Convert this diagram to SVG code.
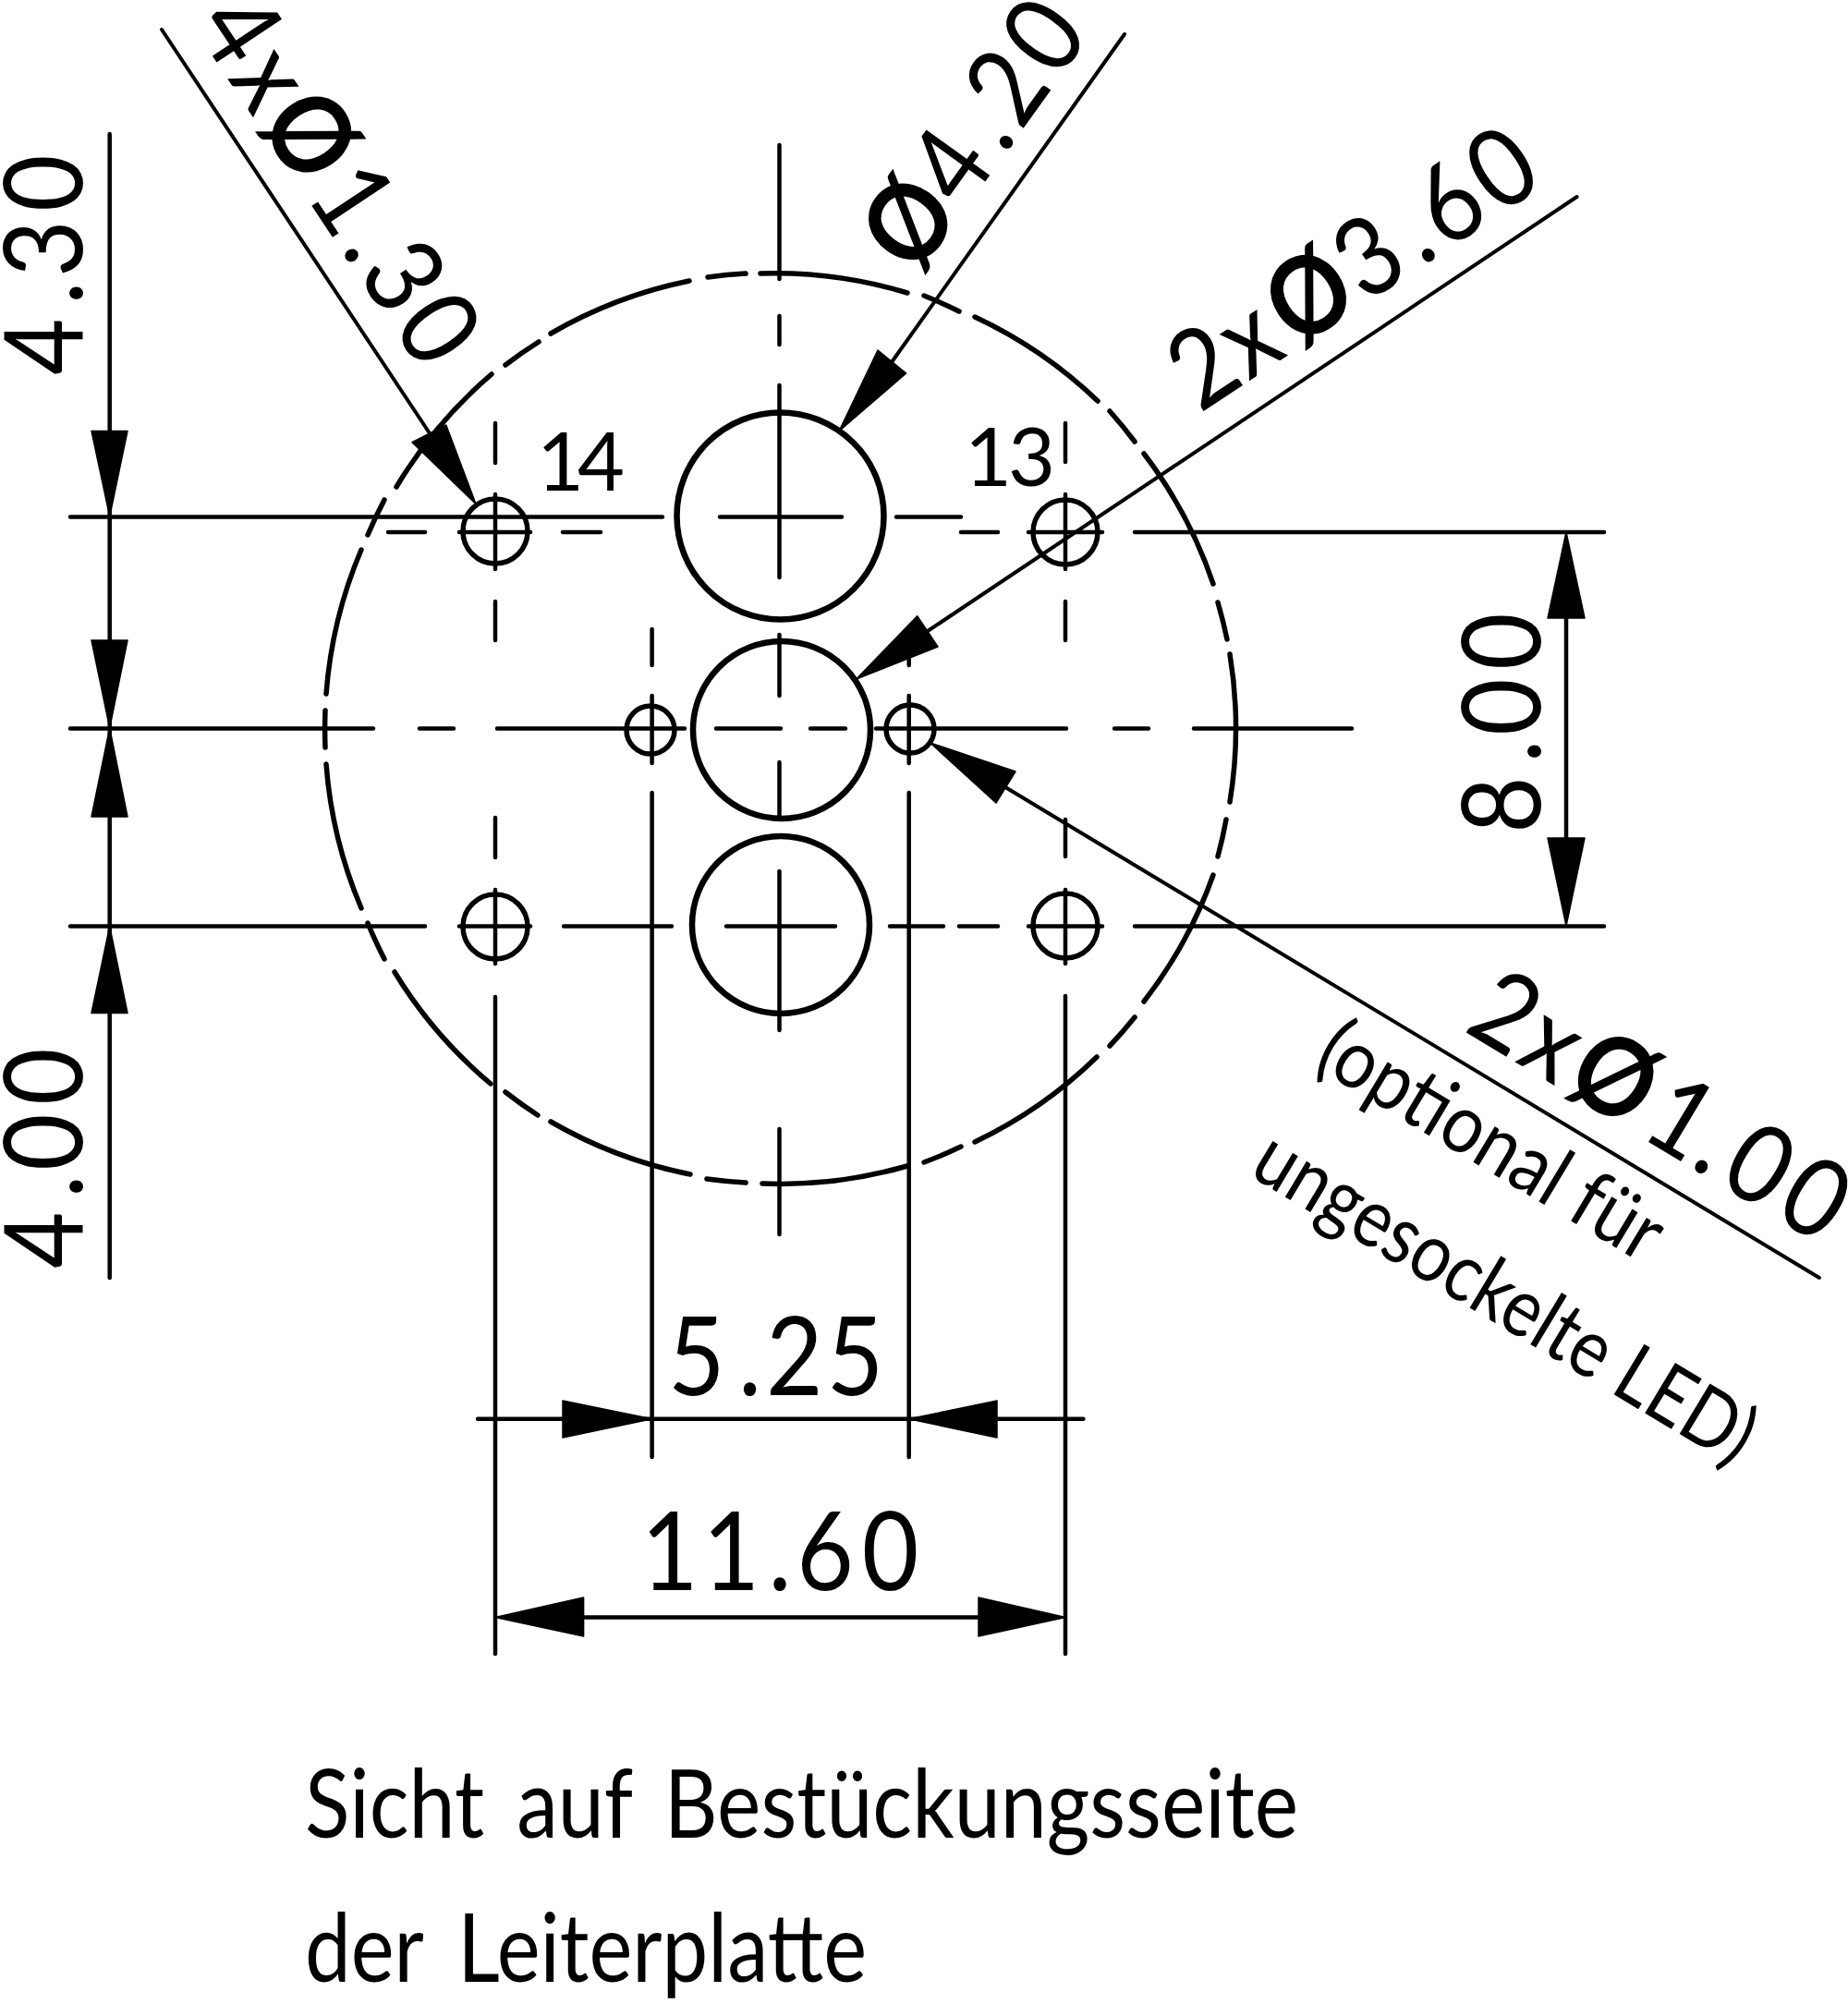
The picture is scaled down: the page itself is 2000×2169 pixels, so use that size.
<svg xmlns="http://www.w3.org/2000/svg" width="2000" height="2169" viewBox="0 0 2000 2169">
<style>
.o{fill:none;stroke:#000;stroke-width:5.5;stroke-linecap:round}
.h{fill:none;stroke:#000;stroke-width:6.5}
.i{fill:none;stroke:#000;stroke-width:5.5}
.l{fill:none;stroke:#000;stroke-width:4.5;stroke-linecap:round}
.t{fill:none;stroke:#000;stroke-width:4;stroke-linecap:round}
.a{fill:#000;stroke:#000;stroke-width:1.5;stroke-linejoin:round}
text{font-family:"Lato","Liberation Sans",sans-serif;fill:#000}
.d{font-size:118px}
.w{font-weight:700}
.m{font-size:88px}
.n{font-size:102px}
.s{font-size:89px}
</style>
<rect width="2000" height="2169" fill="#fff"/>
<g id="board-outline">
<path class="o" d="M823 296A493.5 493.5 0 0 1 982 317M1000 320A493.5 493.5 0 0 1 1038 337M1055 343A493.5 493.5 0 0 1 1188 434M1201 445A493.5 493.5 0 0 1 1228 478M1238 491A493.5 493.5 0 0 1 1313 632M1318 652A493.5 493.5 0 0 1 1328 692M1331 708A493.5 493.5 0 0 1 1331 868M1327 887A493.5 493.5 0 0 1 1318 927M1313 947A493.5 493.5 0 0 1 1238 1084M1228 1101A493.5 493.5 0 0 1 1201 1132M1187 1144A493.5 493.5 0 0 1 1055 1236M1040 1241A493.5 493.5 0 0 1 1000 1258M982 1262A493.5 493.5 0 0 1 825 1281M807 1280A493.5 493.5 0 0 1 765 1276M747 1271A493.5 493.5 0 0 1 596 1214M582 1207A493.5 493.5 0 0 1 547 1182M531 1173A493.5 493.5 0 0 1 427 1052M416 1038A493.5 493.5 0 0 1 398 999M391 983A493.5 493.5 0 0 1 353 827M352 809A493.5 493.5 0 0 1 352 769M353 751A493.5 493.5 0 0 1 391 595M398 579A493.5 493.5 0 0 1 416 541M429 527A493.5 493.5 0 0 1 532 405M547 395A493.5 493.5 0 0 1 583 370M596 361A493.5 493.5 0 0 1 746 304M766 300A493.5 493.5 0 0 1 807 296"/>
</g>
<g id="hole-large-top"><circle class="h" cx="844.5" cy="558.5" r="112"/></g>
<g id="hole-large-middle"><circle class="h" cx="846" cy="790" r="96"/></g>
<g id="hole-large-bottom"><circle class="h" cx="845" cy="1001" r="96"/></g>
<g id="hole-small-14"><circle class="i" cx="536" cy="575" r="35"/></g>
<g id="hole-small-13"><circle class="i" cx="1153" cy="576" r="35"/></g>
<g id="hole-small-bl"><circle class="i" cx="536" cy="1003" r="35"/></g>
<g id="hole-small-br"><circle class="i" cx="1153" cy="1002" r="35"/></g>
<g id="hole-led-left"><circle class="i" cx="704" cy="790" r="26"/></g>
<g id="hole-led-right"><circle class="i" cx="985" cy="789" r="26"/></g>
<g id="connectors">
<path class="l" d="M76 559.5H717M779 559.5H911M970 559.5H1040M420 576H460M497 576H574M609 576H650M1040 576H1080M1113 576H1193M1228 576H1736"/>
<path class="l" d="M76 788.5H404M454 788.5H491M538 788.5H741M775 788.5H845M877 788.5H915M948 788.5H1154M1206 788.5H1243M1292 788.5H1463"/>
<path class="l" d="M76 1002.5H460M497 1002.5H574M610 1002.5H727M786 1002.5H904M963 1002.5H1021M1038 1002.5H1080M1113 1002.5H1193M1228 1002.5H1736"/>
<path class="l" d="M843.5 157V302M843.5 342V373M843.5 417V625M843.5 687V753M843.5 825V883M843.5 943V1115M843.5 1222V1336"/>
<path class="l" d="M536 458V501M536 535V616M536 651V693M536 885V928M536 963V1043M536 1079V1790"/>
<path class="l" d="M705.6 681V720M705.6 753V826M705.6 858V1577"/>
<path class="l" d="M983.7 681V720M983.7 753V826M983.7 858V1577"/>
<path class="l" d="M1153 458V500M1153 535V616M1153 651V693M1153 887V927M1153 963V1043M1153 1078V1790"/>
<path class="l" d="M118.7 145V1383M1695 669V907M517 1535.8H1172.4M631 1750.5H1060"/>
<path class="t" d="M175 32L465 469M1217 37L965 392M1706.6 213L1004 683M1969 1383L1088 852"/>
<polygon class="a" points="118.7,559 99,466.5 138,466.5"/>
<polygon class="a" points="118.7,788 99,693 138,693"/>
<polygon class="a" points="118.7,788 99,884 138,884"/>
<polygon class="a" points="118.7,1002.5 99,1096.5 138,1096.5"/>
<polygon class="a" points="1695,576 1675,669 1715,669"/>
<polygon class="a" points="1695,1002 1675,907 1715,907"/>
<polygon class="a" points="705.6,1535.8 609,1516 609,1556"/>
<polygon class="a" points="983.7,1535.8 1079,1516 1079,1556"/>
<polygon class="a" points="536,1750.5 631.6,1729 631.6,1771"/>
<polygon class="a" points="1153,1750.5 1059,1729 1059,1771"/>
<polygon class="a" points="515,545.5 446,478.6 482.8,460"/>
<polygon class="a" points="908,466.7 950,379 980.7,404"/>
<polygon class="a" points="926.7,735 992.7,666.7 1015,700"/>
<polygon class="a" points="1006.7,804 1099,835 1078,869"/>
</g>
<g id="labels">
<text class="d" transform="translate(89 403) rotate(-90) scale(.9 1)" x="-3.4 81.5 114.5 193.3">4.30</text>
<text class="d" transform="translate(89 1370) rotate(-90) scale(.9 1)" x="-3.4 81.5 114.5 193.3">4.00</text>
<text class="d" transform="translate(1667 899) rotate(-90) scale(.9 1)" x="-3.4 81.5 114.5 193.3">8.00</text>
<text class="d" transform="translate(726 1510) scale(.9 1)" x="-3.4 81 114.5 187.5">5.25</text>
<text class="d" transform="translate(705.6 1721) scale(.9 1)" x="-13 61 140 174 252.5">11.60</text>
<text class="m" x="581 625" y="531">14</text>
<text class="m" x="1044 1091" y="526">13</text>
<text class="d" transform="translate(209 29) rotate(56.5) scale(.9 1)"><tspan x="-1 73.5">4x</tspan><tspan class="w" x="139">Ø</tspan><tspan x="243.5 320.5 355 431.5">1.30</tspan></text>
<text class="d" transform="translate(994 297) rotate(-54.3) scale(.9 1)"><tspan class="w" x="-3.4">Ø</tspan><tspan x="94.5 177 211 287.5">4.20</tspan></text>
<text class="d" transform="translate(1301 446) rotate(-33.5) scale(.9 1)"><tspan x="-3.4 66.5">2x</tspan><tspan class="w" x="137">Ø</tspan><tspan x="235.5 317 352 428">3.60</tspan></text>
<text class="d" transform="translate(1585 1116.5) rotate(31) scale(.9 1)"><tspan x="-3.4 69">2x</tspan><tspan class="w" x="136">Ø</tspan><tspan x="243.5 314 353 431">1.00</tspan></text>
<text class="s" transform="translate(1420 1153) rotate(31)" textLength="418" lengthAdjust="spacingAndGlyphs">(optional für</text>
<text class="s" transform="translate(1350 1271) rotate(31)" textLength="615" lengthAdjust="spacingAndGlyphs">ungesockelte LED)</text>
<text class="n" x="330" y="1989" textLength="1075" lengthAdjust="spacingAndGlyphs" word-spacing="14">Sicht auf Bestückungsseite</text>
<text class="n" x="330" y="2145" textLength="608" lengthAdjust="spacingAndGlyphs" word-spacing="18">der Leiterplatte</text>
</g>
</svg>
